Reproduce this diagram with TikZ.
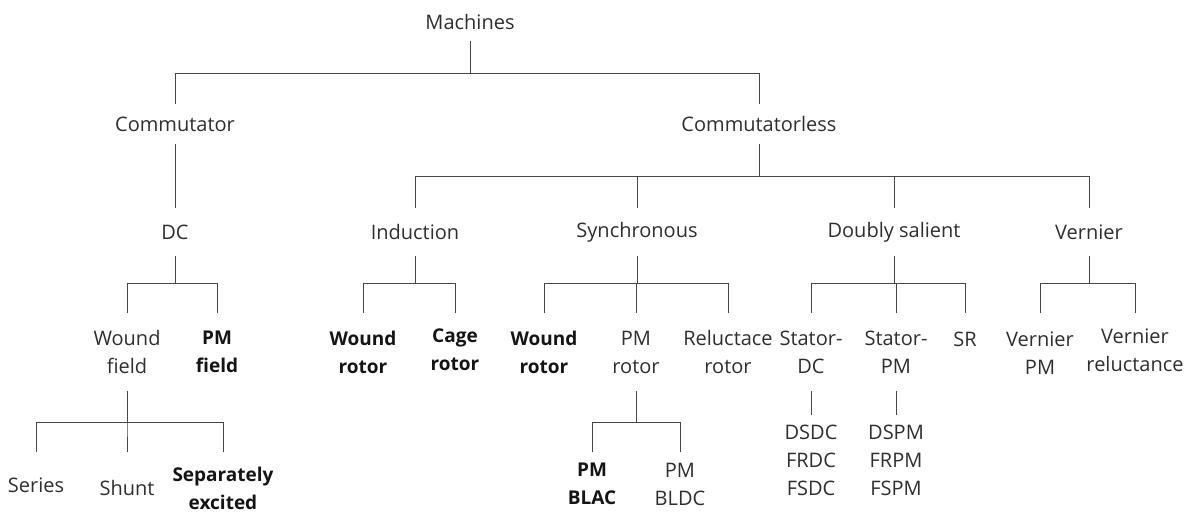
\documentclass[tikz,border=0pt]{standalone}
\usepackage{fontspec}
\setmainfont{Open Sans}
\usetikzlibrary{positioning}

\begin{document}
\begin{tikzpicture}[
  x=1pt, y=-1pt,
  every node/.style={font=\fontsize{20}{28}\selectfont, text=black!82, align=center, inner sep=0pt},
  hgt/.style={minimum height=#1},
  boldname/.style={font=\fontsize{19}{28}\selectfont\bfseries, text=black!92},
  link/.style={draw=black!72, line width=1pt}
]
\useasboundingbox (0,0) rectangle (1192,512);

% Root and first split
\node[hgt=38] (mach) at (470,22) {Machines};
\node[hgt=40] (comm) at (175,124) {Commutator};
\node[hgt=40] (less) at (759,124) {Commutatorless};

% Machine families
\node[hgt=48] (dc) at (175,232) {DC};
\node[hgt=48] (ind) at (415,232) {Induction};
\node[hgt=48] (sync) at (637,232) {Synchronous};
\node[hgt=48] (dbl) at (894,232) {Doubly salient};
\node[hgt=48] (vern) at (1089,232) {Vernier};

% Third level
\node[hgt=78] (wf) at (127,352) {Wound\\field};
\node[hgt=78, boldname] (pmf) at (217,352) {PM\\field};
\node[hgt=78, boldname] (iwr) at (363,352) {Wound\\rotor};
\node[hgt=74, boldname] (cage) at (455,350) {Cage\\rotor};
\node[hgt=78, boldname] (swr) at (544,352) {Wound\\rotor};
\node[hgt=78] (pmr) at (636,352) {PM\\rotor};
\node[hgt=78] (rel) at (728,352) {Reluctace\\rotor};
\node[hgt=78] (sdc) at (811,352) {Stator-\\DC};
\node[hgt=78] (spm) at (896,352) {Stator-\\PM};
\node[hgt=52] (sr) at (965,339) {SR};
\node[hgt=80] (vpm) at (1040,353) {Vernier\\PM};
\node[hgt=74] (vrel) at (1135,350) {Vernier\\reluctance};

% Leaves
\node[hgt=66] (series) at (36,485) {Series};
\node[hgt=72] (shunt) at (127,488) {Shunt};
\node[hgt=72, boldname] (sepex) at (223,488) {Separately\\excited};
\node[hgt=64, boldname] (blac) at (592,484) {PM\\BLAC};
\node[hgt=64] (bldc) at (680,484) {PM\\BLDC};
\node[hgt=90] (dsdc) at (811,460) {DSDC\\FRDC\\FSDC};
\node[hgt=90] (dspm) at (896,460) {DSPM\\FRPM\\FSPM};

% Tree connectors
\foreach \c in {comm, less}
  \draw[link] (mach.south) -- ++(0,32) -| (\c.north);
\draw[link] (comm) -- (dc);
\foreach \c in {ind, sync, dbl, vern}
  \draw[link] (less.south) -- ++(0,32) -| (\c.north);
\foreach \p/\c in {dc/wf, dc/pmf, ind/iwr, ind/cage, sync/swr, sync/pmr, sync/rel,
                   dbl/sdc, dbl/spm, dbl/sr, vern/vpm, vern/vrel}
  \draw[link] (\p.south) -- ++(0,27) -| (\c.north);
\foreach \p/\c in {wf/series, wf/shunt, wf/sepex, pmr/blac, pmr/bldc}
  \draw[link] (\p.south) -- ++(0,31) -| (\c.north);
\draw[link] (sdc) -- (dsdc);
\draw[link] (spm) -- (dspm);

\end{tikzpicture}
\end{document}
